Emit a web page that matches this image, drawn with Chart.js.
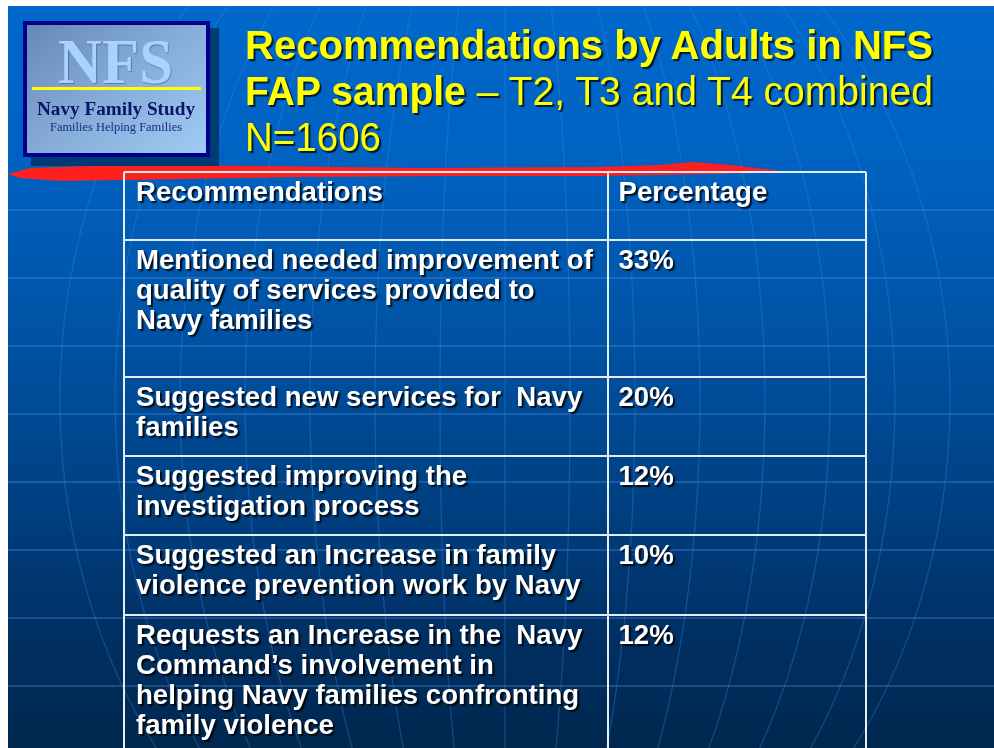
<!DOCTYPE html>
<html>
<head>
<meta charset="utf-8">
<script src="https://cdn.jsdelivr.net/npm/chart.js"></script>
<style>
  html, body { margin: 0; padding: 0; background: #ffffff; }
  #root { position: relative; width: 994px; height: 748px; overflow: hidden; background: #ffffff; }
  #slide { position: absolute; left: 8px; top: 6px; width: 986px; height: 742px;
    background: linear-gradient(to bottom, #0068cc 0%, #0061c0 22%, #0052a3 45%, #003f80 68%, #002f61 86%, #00284f 100%); }
  #bg { position: absolute; left: 8px; top: 6px; }
  #chart { position: absolute; left: 0; top: 0; }
  .abs { position: absolute; white-space: nowrap; transform-origin: 0 0; }
  .title { font-family: "Liberation Sans Narrow", "Arial Narrow", "Liberation Sans", Arial, sans-serif;
    font-size: 41px; line-height: 41px; color: #ffff00; text-shadow: 2px 2px 1px rgba(0,0,0,0.75); }
  .title b { font-weight: bold; }
  .title span.n { font-weight: normal; }
  #logoShadow { position: absolute; left: 31px; top: 28px; width: 188px; height: 138px; background: #003a72; }
  #logo { position: absolute; left: 23px; top: 21px; width: 187px; height: 136px; box-sizing: border-box;
    border: 4px solid #00008c; background: linear-gradient(140deg, #6888b6 0%, #84a9d6 45%, #a0cbf5 100%); }
  #logoLine { position: absolute; left: 32px; top: 87px; width: 169px; height: 3px; background: #ffff00; }
  .serif { font-family: "Liberation Serif", "Times New Roman", serif; }
</style>
</head>
<body>
<div id="root">
  <div id="slide"></div>
  <svg id="bg" width="986" height="742" viewBox="8 6 986 742" xmlns="http://www.w3.org/2000/svg">
    <g id="lat" stroke="rgba(70,145,235,0.45)" stroke-width="1.5" fill="none"></g>
    <g id="lon" stroke="#3a8ae8" stroke-opacity="0.33" stroke-width="1.3" fill="none"></g>
    <polygon fill="#ff1f1f" points="8,174 30,168 120,165 260,166 420,168 600,167 660,165 693,162 730,165 790,172 720,174 600,176 450,176 300,177 180,179 60,181 20,178"></polygon>
  </svg>
  <canvas id="chart" width="994" height="748"></canvas>

  <div id="logoShadow"></div>
  <div id="logo"></div>
  <div id="logoLine"></div>
  <div class="abs serif" data-w="115" style="left:58px; top:30px; font-size:64px; line-height:64px; font-weight:bold; color:#a9d3fc; text-shadow: 1px 1px 1px rgba(50,85,140,0.55);">NFS</div>
  <div class="abs serif" data-w="158" style="left:37px; top:100px; font-size:18px; line-height:18px; font-weight:bold; color:#0b1466;">Navy Family Study</div>
  <div class="abs serif" data-w="132" style="left:50px; top:121px; font-size:12.5px; line-height:12.5px; color:#1a2a85;">Families Helping Families</div>

  <div class="abs title" data-w="688" style="left:245px; top:25px;"><b>Recommendations by Adults in NFS</b></div>
  <div class="abs title" data-w="688" style="left:245px; top:71px;"><b>FAP sample</b><span class="n"> – T2, T3 and T4 combined</span></div>
  <div class="abs title" data-w="136" style="left:245px; top:117px;"><span class="n">N=1606</span></div>
</div>

<script>
// ---------------- data ----------------
const headers = ['Recommendations', 'Percentage'];
const categories = [
  ['Mentioned needed improvement of', 'quality of services provided to', 'Navy families'],
  ['Suggested new services for  Navy', 'families'],
  ['Suggested improving the', 'investigation process'],
  ['Suggested an Increase in family', 'violence prevention work by Navy'],
  ['Requests an Increase in the  Navy', 'Command\u2019s involvement in', 'helping Navy families confronting', 'family violence']
];
const percentages = [33, 20, 12, 10, 12];

// ---------------- layout (sizes, not data) ----------------
const rowHeights = [68, 137, 79, 79, 80, 140];   // header + 5 rows
const colWidths = [483.5, 258.5];
const colPad = [12, 11];
const firstBaseline = 29;
const lineHeight = 30;

const rowTops = [0];
rowHeights.forEach(h => rowTops.push(rowTops[rowTops.length - 1] + h));
const colStarts = [0];
colWidths.forEach(w => colStarts.push(colStarts[colStarts.length - 1] + w));
const tableWidth = colStarts[colStarts.length - 1];
const visibleHeight = 576;

// ---------------- fit HTML text widths ----------------
document.querySelectorAll('[data-w]').forEach(el => {
  const w = el.getBoundingClientRect().width;
  const target = parseFloat(el.dataset.w);
  if (w > 0) el.style.transform = 'scaleX(' + (target / w) + ')';
});

// ---------------- background globe lines ----------------
(function () {
  const ns = 'http://www.w3.org/2000/svg';
  const lat = document.getElementById('lat');
  for (let k = 0; k < 8; k++) {
    const y = 210 + 68 * k;
    const l = document.createElementNS(ns, 'line');
    l.setAttribute('x1', 8); l.setAttribute('x2', 994);
    l.setAttribute('y1', y); l.setAttribute('y2', y);
    lat.appendChild(l);
  }
  const lon = document.getElementById('lon');
  const rxs = [65, 130, 195, 260, 325, 390, 445];
  const v = document.createElementNS(ns, 'line');
  v.setAttribute('x1', 505); v.setAttribute('x2', 505); v.setAttribute('y1', 0); v.setAttribute('y2', 760);
  lon.appendChild(v);
  rxs.forEach(rx => {
    const e = document.createElementNS(ns, 'ellipse');
    e.setAttribute('cx', 505); e.setAttribute('cy', 400);
    e.setAttribute('rx', rx); e.setAttribute('ry', 560);
    lon.appendChild(e);
  });
})();

// ---------------- chart ----------------
const tableText = {
  id: 'tableText',
  afterDatasetsDraw(chart) {
    const ctx = chart.ctx;
    ctx.save();
    ctx.font = 'bold 27.6px "Liberation Sans", Arial, Helvetica, sans-serif';
    ctx.fillStyle = '#ffffff';
    ctx.textAlign = 'left';
    ctx.textBaseline = 'alphabetic';
    ctx.shadowColor = 'rgba(0,0,0,0.85)';
    ctx.shadowOffsetX = 2;
    ctx.shadowOffsetY = 2;
    ctx.shadowBlur = 1.5;
    chart.data.datasets.forEach((ds, di) => {
      const meta = chart.getDatasetMeta(di);
      meta.data.forEach((pt, i) => {
        const lines = ds.textLines[i];
        const pad = colPad[ds.col[i]];
        lines.forEach((ln, j) => {
          ctx.fillText(ln, pt.x + pad, pt.y + firstBaseline + j * lineHeight);
        });
      });
    });
    ctx.restore();
  }
};

const gridOpts = { color: '#e6ecf5', lineWidth: 2, drawTicks: false };

new Chart(document.getElementById('chart'), {
  type: 'scatter',
  data: {
    datasets: [
      {
        label: 'header',
        data: headers.map((h, c) => ({ x: colStarts[c], y: rowTops[0] })),
        textLines: headers.map(h => [h]),
        col: headers.map((h, c) => c),
        pointRadius: 0
      },
      {
        label: 'Recommendations',
        data: categories.map((c, i) => ({ x: colStarts[0], y: rowTops[i + 1] })),
        textLines: categories,
        col: categories.map(() => 0),
        pointRadius: 0
      },
      {
        label: 'Percentage',
        data: percentages.map((p, i) => ({ x: colStarts[1], y: rowTops[i + 1] })),
        textLines: percentages.map(p => [p + '%']),
        col: percentages.map(() => 1),
        pointRadius: 0
      }
    ]
  },
  options: {
    responsive: false,
    animation: false,
    devicePixelRatio: 1,
    layout: { padding: { left: 124, top: 172, right: 128, bottom: 0 } },
    plugins: { legend: { display: false }, tooltip: { enabled: false }, title: { display: false } },
    events: [],
    scales: {
      x: {
        type: 'linear', min: 0, max: tableWidth,
        grid: gridOpts, border: { display: false },
        ticks: { display: false, autoSkip: false },
        afterBuildTicks: s => { s.ticks = colStarts.map(v => ({ value: v })); }
      },
      y: {
        type: 'linear', min: 0, max: visibleHeight, reverse: true,
        grid: gridOpts, border: { display: false },
        ticks: { display: false, autoSkip: false },
        afterBuildTicks: s => { s.ticks = rowTops.slice(0, rowTops.length - 1).map(v => ({ value: v })); }
      }
    }
  },
  plugins: [tableText]
});
</script>
</body>
</html>
